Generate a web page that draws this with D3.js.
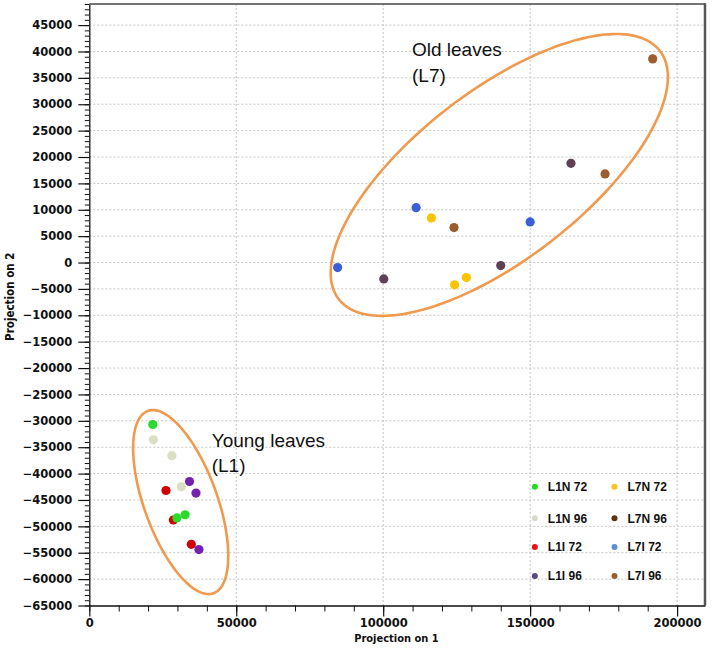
<!DOCTYPE html>
<html>
<head>
<meta charset="utf-8">
<script src="https://cdn.jsdelivr.net/npm/d3@7"></script>
<style>
  html, body { margin: 0; padding: 0; background: #fff; }
  svg { display: block; }
</style>
</head>
<body>
<svg id="chart" width="712" height="648"></svg>
<script>
// ---------- DATA ----------
const seriesNames = ["L1N 72", "L1N 96", "L1I 72", "L1I 96", "L7N 72", "L7N 96", "L7I 72", "L7I 96"];
const pointColors = ["#2bdb2b", "#dadfc2", "#d00000", "#7420b0", "#fbc400", "#5e4154", "#3b5fd4", "#9b5d2e"];
const legendColors = ["#22dd22", "#d8d8c8", "#ee1111", "#5a4a7a", "#ffc020", "#5c3310", "#5b8fd6", "#8f6235"];
const seriesX = [
  [21600, 32600, 29800],
  [21800, 28100, 31300],
  [26100, 28600, 34700],
  [34100, 36300, 37300],
  [116400, 124300, 128300],
  [100200, 140000, 163900],
  [84500, 111200, 150000],
  [124100, 175500, 191700]
];
const seriesY = [
  [-30700, -47800, -48400],
  [-33600, -36600, -42500],
  [-43200, -48800, -53400],
  [-41500, -43700, -54400],
  [8460, -4220, -2840],
  [-3100, -570, 18800],
  [-950, 10400, 7700],
  [6630, 16800, 38600]
];
const drawOrder = [1, 2, 0, 3, 4, 5, 6, 7];
const xTickValues = [0, 50000, 100000, 150000, 200000];
const yTickValues = d3.range(-65000, 45001, 5000);
const xTitle = "Projection on 1";
const yTitle = "Projection on 2";
// group ellipses (annotation): centre and two half-axis vectors, data units
const groupLabels = [["Old leaves", "(L7)"], ["Young leaves", "(L1)"]];
const groupCenters = [[139500, 16600], [31100, -45400]];
const groupAxisA = [[54600, 23550], [11140, -17280]];
const groupAxisB = [[17600, -12600], [-11740, -2330]];
const groupLabelPos = [[109800, 39100], [41650, -34900]];
// legend anchor positions (data units)
const legX = [151600, 178700];
const legY = [-42480, -48470, -53900, -59410];

// ---------- LAYOUT ----------
const svg = d3.select("#chart");
const pL = 89.3, pR = 705, pT = 4, pB = 605.5;
const x = d3.scaleLinear().domain([0, 209500]).range([pL, pR]);
const y = d3.scaleLinear().domain([-65000, 49000]).range([pB, pT]);

const tickFont = "'DejaVu Sans', sans-serif";

// grid
const grid = svg.append("g");
grid.selectAll("line.gy").data(yTickValues.filter(v => v > -65000)).join("line")
  .attr("x1", pL).attr("x2", pR)
  .attr("y1", d => y(d)).attr("y2", d => y(d))
  .attr("stroke", "#c4c4c4").attr("stroke-width", 1).attr("stroke-dasharray", "2,2");
grid.selectAll("line.gx").data(xTickValues.filter(v => v > 0)).join("line")
  .attr("y1", pT).attr("y2", pB)
  .attr("x1", d => x(d)).attr("x2", d => x(d))
  .attr("stroke", "#c4c4c4").attr("stroke-width", 1).attr("stroke-dasharray", "2,2");

// frame top / right
svg.append("line").attr("x1", pL).attr("x2", pR).attr("y1", pT).attr("y2", pT)
  .attr("stroke", "#444").attr("stroke-width", 1.5);
svg.append("line").attr("x1", pR).attr("x2", pR).attr("y1", pT - 0.75).attr("y2", pB)
  .attr("stroke", "#555").attr("stroke-width", 2.5);

// minor ticks
const xMinor = svg.append("g").attr("transform", `translate(0,${pB})`)
  .call(d3.axisBottom(x).tickValues(d3.range(0, 209001, 10000)).tickSize(6).tickFormat(""));
const yMinor = svg.append("g").attr("transform", `translate(${pL},0)`)
  .call(d3.axisLeft(y).tickValues(d3.range(-65000, 49001, 1000)).tickSize(4.5).tickFormat(""));
[xMinor, yMinor].forEach(g => { g.select(".domain").remove(); g.selectAll("line").attr("stroke", "#111"); });

// major axes
const xAxis = svg.append("g").attr("transform", `translate(0,${pB})`)
  .call(d3.axisBottom(x).tickValues(xTickValues).tickSize(11).tickSizeOuter(0).tickPadding(2.5).tickFormat(d3.format("d")));
const yAxis = svg.append("g").attr("transform", `translate(${pL},0)`)
  .call(d3.axisLeft(y).tickValues(yTickValues).tickSize(11).tickSizeOuter(0).tickPadding(6).tickFormat(d3.format("d")));
[xAxis, yAxis].forEach(g => {
  g.select(".domain").attr("stroke", "#111").attr("stroke-width", 1.3);
  g.selectAll(".tick line").attr("stroke", "#111").attr("stroke-width", 1.2);
  g.selectAll("text").attr("fill", "#111").style("font-family", tickFont)
    .style("font-weight", "bold").style("font-size", "11.5px");
});

// axis titles
svg.append("text").attr("x", (pL + pR) / 2 - 0.7).attr("y", 641.5)
  .attr("text-anchor", "middle").style("font-family", "'DejaVu Sans Condensed', 'DejaVu Sans', sans-serif")
  .style("font-weight", "bold").style("font-size", "11px").attr("fill", "#111").text(xTitle);
svg.append("text").attr("transform", `translate(14,${(pT + pB) / 2 - 8}) rotate(-90)`)
  .attr("text-anchor", "middle").style("font-family", "'DejaVu Sans Condensed', 'DejaVu Sans', sans-serif")
  .style("font-weight", "bold").style("font-size", "11.5px").attr("fill", "#111").text(yTitle);

// group ellipses
const ts = d3.range(0, 361, 3).map(a => a * Math.PI / 180);
const line = d3.line().x(d => x(d[0])).y(d => y(d[1])).curve(d3.curveCardinalClosed);
groupCenters.forEach((c, i) => {
  const a = groupAxisA[i], b = groupAxisB[i];
  const pts = ts.slice(0, -1).map(t => [c[0] + Math.cos(t) * a[0] + Math.sin(t) * b[0],
                                        c[1] + Math.cos(t) * a[1] + Math.sin(t) * b[1]]);
  svg.append("path").attr("d", line(pts)).attr("fill", "none")
    .attr("stroke", "#ef9a4e").attr("stroke-width", 2.6);
  const lp = groupLabelPos[i];
  const txt = svg.append("text").attr("x", x(lp[0])).attr("y", y(lp[1]))
    .style("font-family", "'Liberation Sans', Arial, sans-serif").style("font-size", "19px").attr("fill", "#111");
  groupLabels[i].forEach((s, k) => txt.append("tspan").attr("x", x(lp[0])).attr("dy", k === 0 ? 0 : 25.5).text(s));
});

// points
drawOrder.forEach(si => {
  svg.append("g").selectAll("circle").data(seriesX[si].map((v, k) => [v, seriesY[si][k]])).join("circle")
    .attr("cx", d => x(d[0])).attr("cy", d => y(d[1])).attr("r", 4.6)
    .attr("fill", pointColors[si]);
});

// legend
const leg = svg.append("g");
seriesNames.forEach((name, i) => {
  const col = Math.floor(i / 4), row = i % 4;
  const cx = x(legX[col]), cy = y(legY[row]);
  leg.append("circle").attr("cx", cx).attr("cy", cy).attr("r", 3).attr("fill", legendColors[i]);
  leg.append("text").attr("x", cx + 13).attr("y", cy + 4.3)
    .style("font-family", "'Liberation Sans', Arial, sans-serif").style("font-weight", "bold")
    .style("font-size", "12px").attr("fill", "#111").text(name);
});
</script>
</body>
</html>
